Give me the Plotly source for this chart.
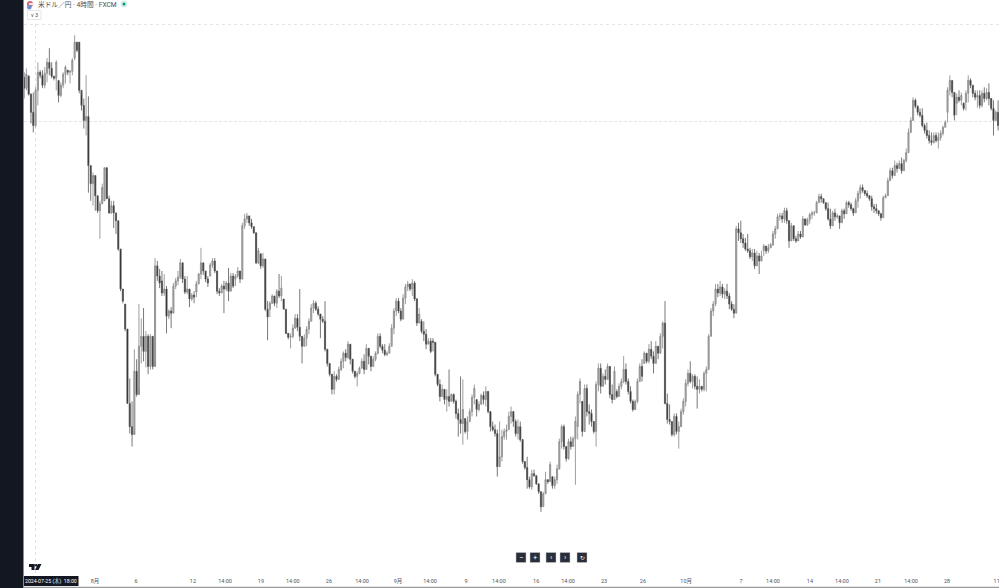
import plotly.graph_objects as go

highs = [
154.10,154.23,154.00,153.40,153.43,153.60,154.43,154.17,154.17,154.27,
154.57,154.90,154.43,153.97,154.50,153.83,153.77,154.10,154.33,154.17,
154.17,154.57,155.33,155.10,155.10,153.33,153.23,154.00,153.30,151.00,
150.77,150.67,150.00,149.83,150.40,150.93,150.93,150.00,149.83,149.83,
149.43,149.17,148.17,146.83,146.40,145.57,143.93,143.17,144.90,144.57,
146.40,145.93,146.27,145.50,145.40,145.40,145.33,147.93,147.83,147.57,
147.50,147.40,147.00,146.23,146.30,147.10,147.27,147.50,147.90,147.63,
147.33,147.33,146.90,146.77,146.83,147.17,147.43,148.27,147.77,147.43,
147.33,147.77,147.93,147.93,147.50,146.93,147.07,147.17,147.17,147.60,
147.43,147.43,147.40,147.63,147.40,149.10,149.40,149.43,149.33,149.23,
148.93,148.77,148.27,148.07,148.10,147.90,146.50,146.50,146.73,146.57,
146.90,147.40,147.33,146.57,146.23,145.40,145.43,145.73,146.07,146.07,
146.90,145.33,145.40,145.67,145.93,146.40,146.53,146.50,146.33,146.07,
146.00,146.50,144.90,144.33,144.00,144.17,144.07,144.33,144.60,144.83,
144.90,145.17,145.07,144.50,144.17,144.17,144.33,144.60,144.73,145.07,
144.77,144.60,144.67,144.83,145.43,145.43,145.07,145.07,144.83,145.10,
145.73,146.27,146.60,146.60,146.27,146.73,147.07,147.17,147.00,147.23,
147.17,146.60,146.27,145.90,145.83,145.57,145.27,145.27,145.27,145.10,
144.07,143.90,143.73,143.57,143.57,144.23,143.43,143.43,143.23,142.93,
144.00,143.90,142.60,142.67,142.93,143.40,143.73,143.23,143.17,143.43,
143.50,143.67,143.50,142.83,142.50,142.40,142.23,142.50,142.23,142.27,
142.40,142.83,143.00,142.73,142.57,142.57,142.50,141.83,141.17,141.33,
140.67,140.90,140.90,140.67,140.43,140.17,140.17,140.83,140.57,141.17,
140.67,140.67,141.07,141.93,142.40,142.40,141.67,141.93,142.00,142.00,
142.67,143.50,143.93,143.17,143.73,143.73,143.07,142.90,142.40,143.83,
144.43,144.43,144.10,144.23,144.43,144.27,143.73,144.33,143.57,143.77,
143.93,144.67,144.43,143.93,143.67,143.23,143.23,143.93,144.43,144.57,
144.83,144.73,145.07,145.17,144.83,145.17,144.83,145.43,145.83,146.50,
143.43,143.07,142.50,142.77,142.77,142.50,142.93,143.27,143.90,144.23,
144.50,144.07,144.07,144.00,143.90,143.67,144.17,144.33,145.40,146.27,
146.50,147.07,147.07,147.17,147.07,146.93,147.07,146.77,146.50,146.40,
149.00,149.10,149.17,148.73,148.60,148.73,148.27,148.23,148.23,148.17,
148.10,148.17,148.40,148.33,148.40,148.43,148.83,149.00,149.40,149.43,
149.43,149.60,149.60,149.10,149.10,148.93,148.67,148.83,148.83,149.33,
149.10,149.27,149.43,149.50,149.50,149.83,150.07,150.07,149.83,149.77,
149.77,149.57,149.50,149.57,149.40,149.33,149.57,149.57,149.83,149.83,
149.77,149.60,149.93,150.17,150.37,150.37,150.17,150.17,150.00,150.00,
149.73,149.73,149.50,149.43,150.00,150.07,150.60,150.93,150.93,151.17,
151.10,151.17,151.27,151.23,151.57,152.23,152.60,153.27,153.23,153.00,
152.90,152.90,152.40,152.43,152.17,152.10,152.10,152.10,152.10,152.17,
152.33,152.50,153.60,154.00,153.83,153.33,153.40,153.50,153.43,153.10,
153.50,154.00,153.90,153.67,153.50,153.50,153.50,153.50,153.60,153.57,
153.73,153.17,153.17,152.83,153.17]

lows = [
153.23,153.50,153.33,152.40,152.10,152.27,153.00,153.90,153.57,153.57,
153.77,154.00,153.90,153.83,153.50,153.10,153.27,153.57,153.73,154.00,
153.73,154.00,154.50,154.77,153.40,152.83,152.23,152.00,150.10,149.83,
149.67,149.50,149.43,148.57,149.73,149.83,149.90,149.40,149.40,148.93,
148.73,148.17,146.83,146.43,145.50,143.10,142.10,141.67,142.17,143.33,
143.57,144.43,144.50,144.30,144.07,144.23,144.23,144.50,147.17,146.93,
146.67,146.67,145.43,145.90,145.60,146.10,146.90,147.03,147.23,147.10,
146.73,146.73,146.30,146.50,146.43,146.63,147.07,147.23,147.37,147.13,
146.97,147.33,147.60,147.43,146.73,146.67,146.77,146.10,146.83,146.50,
146.83,146.93,147.00,147.27,147.10,147.23,148.90,149.10,149.00,148.90,
148.73,147.73,147.73,147.57,147.60,146.17,145.20,145.97,146.40,146.33,
146.27,146.60,146.50,146.23,145.40,145.23,144.93,145.27,145.60,145.50,
145.17,144.43,145.00,145.00,145.40,145.83,146.10,146.17,146.00,145.27,
145.77,144.83,144.33,144.00,143.40,143.40,143.83,143.90,144.17,144.27,
144.50,144.57,144.40,144.10,143.93,143.67,144.07,144.27,144.07,144.23,
144.40,144.17,144.33,144.50,144.73,144.93,144.77,144.67,144.67,144.77,
145.00,145.40,146.00,146.10,145.83,145.90,146.40,146.83,146.83,146.67,
146.50,145.67,145.77,145.43,145.17,144.90,145.07,144.77,144.83,144.00,
143.67,143.17,143.33,143.07,142.83,143.00,143.17,143.10,142.60,142.00,
142.10,141.73,142.10,141.90,142.50,142.67,143.07,142.67,142.83,143.07,
143.07,143.00,142.77,142.17,142.17,142.00,140.67,141.00,141.17,141.90,
141.90,142.23,142.43,142.33,142.00,141.90,141.83,141.10,140.90,140.27,
140.27,140.23,140.67,140.40,140.10,139.50,139.67,140.10,140.43,140.50,
140.27,140.27,140.43,140.90,141.60,141.57,141.17,141.23,141.57,141.67,
140.40,141.90,143.10,142.00,142.17,142.67,142.40,142.33,142.10,141.67,
143.50,143.43,143.67,143.73,143.90,143.27,143.10,143.23,143.27,143.33,
143.57,143.77,143.73,143.40,143.10,142.83,143.10,143.10,143.83,143.83,
144.43,144.43,144.43,144.57,144.10,144.43,144.57,144.77,144.93,143.07,
142.43,142.40,142.00,142.00,142.07,141.60,142.33,142.73,143.00,143.67,
143.77,143.60,143.57,142.93,143.43,143.50,143.50,143.50,144.23,145.33,
146.00,146.33,146.63,146.67,146.60,146.57,146.57,146.23,146.17,145.93,
146.10,148.50,148.43,148.27,148.17,148.10,147.90,147.83,147.57,147.67,
147.40,147.83,148.00,148.07,148.10,148.27,148.33,148.57,148.90,149.17,
149.10,149.10,149.07,148.27,148.50,148.50,148.43,148.50,148.57,148.63,
149.00,149.00,149.07,149.23,149.33,149.43,149.77,149.77,149.73,149.50,
149.17,148.90,149.00,149.17,149.23,148.90,149.10,149.23,149.40,149.60,
149.50,149.33,149.43,149.60,149.90,150.10,150.00,149.93,149.83,149.50,
149.43,149.40,149.33,149.17,149.27,149.93,150.00,150.50,150.57,150.67,
150.77,150.90,150.73,150.83,151.10,151.43,152.10,152.50,152.90,152.67,
152.60,152.27,152.07,151.90,151.73,151.67,151.73,151.77,151.57,151.83,
152.00,152.27,152.43,153.33,153.27,152.50,152.67,153.10,153.00,152.83,
152.83,153.10,153.57,153.27,153.17,152.93,152.90,152.93,153.10,153.17,
153.00,152.83,152.00,152.50,152.17]

opens = [
153.93,153.57,153.97,153.37,152.77,152.33,153.50,154.10,154.00,153.67,
154.07,154.43,154.23,153.97,153.90,153.83,153.33,153.67,154.03,154.17,
154.10,154.13,154.57,155.10,155.10,153.50,153.00,152.50,152.63,151.00,
150.40,150.67,150.00,149.50,149.73,149.83,150.93,149.90,149.43,149.67,
149.43,149.17,148.23,146.90,146.40,145.57,143.10,142.33,142.07,144.17,
143.40,145.00,145.33,144.83,145.33,144.33,145.33,144.33,147.67,147.33,
147.17,146.77,146.90,146.00,146.17,146.10,147.00,147.17,147.30,147.77,
147.23,146.80,146.90,146.57,146.70,146.80,147.07,147.40,147.77,147.50,
147.23,147.33,147.70,147.83,147.50,146.83,146.77,147.00,146.90,147.10,
146.83,147.33,147.23,147.33,147.50,147.23,149.00,149.23,149.33,149.10,
148.97,148.77,147.77,148.07,147.67,147.90,146.23,146.23,146.43,146.67,
146.43,146.83,146.67,146.57,146.23,145.43,145.30,145.33,145.60,145.93,
145.63,145.33,145.00,145.27,145.57,145.83,146.27,146.43,146.23,146.07,
145.90,145.83,144.90,144.43,144.07,143.57,144.00,143.90,144.23,144.50,
144.77,144.63,145.07,144.57,144.17,144.00,144.10,144.27,144.50,144.23,
144.93,144.67,144.33,144.57,144.77,145.33,145.00,144.87,144.73,144.77,
145.00,145.60,146.17,146.50,146.17,145.90,146.60,146.97,147.07,146.90,
147.10,146.57,145.77,145.83,145.50,145.40,145.07,145.17,145.17,145.13,
144.07,143.73,143.33,143.57,143.23,143.33,143.17,143.40,143.17,142.77,
142.57,142.43,142.60,142.17,142.50,142.83,143.30,143.23,142.90,143.07,
143.37,143.23,143.50,142.83,142.33,142.23,142.10,141.00,141.33,142.00,
142.17,142.23,142.67,142.83,142.50,142.10,142.33,141.90,141.17,140.97,
140.57,140.33,140.77,140.70,140.43,140.17,139.67,140.10,140.57,140.50,
140.67,140.37,140.57,140.93,141.83,142.33,141.67,141.27,141.83,141.67,
141.93,142.33,143.40,143.17,142.17,143.60,142.83,142.77,142.50,142.17,
143.73,144.27,143.67,144.00,143.90,144.33,143.40,143.23,143.50,143.33,
143.67,143.83,144.23,143.83,143.50,143.17,142.90,143.17,143.83,144.33,
144.43,144.77,144.50,144.90,144.67,144.43,145.00,144.77,145.33,145.77,
143.10,142.57,142.50,142.07,142.67,142.17,142.33,142.83,143.17,143.77,
144.10,143.83,144.00,143.67,143.57,143.67,143.57,144.10,144.23,145.33,
146.17,146.40,146.90,146.77,146.97,146.73,146.83,146.67,146.40,146.23,
146.10,148.90,148.77,148.57,148.43,148.23,148.17,147.97,148.10,147.67,
148.00,147.83,148.17,148.33,148.17,148.27,148.37,148.73,148.90,149.30,
149.33,149.23,149.50,149.17,148.50,149.00,148.57,148.50,148.73,148.63,
149.23,149.03,149.20,149.37,149.43,149.43,149.77,149.97,149.90,149.77,
149.57,149.23,149.00,149.43,149.30,149.33,149.10,149.50,149.40,149.77,
149.70,149.57,149.43,149.83,150.07,150.27,150.17,150.07,150.00,149.90,
149.63,149.57,149.50,149.40,149.27,149.93,150.00,150.50,150.83,150.67,
151.00,150.90,151.07,150.83,151.17,151.43,152.10,152.50,153.17,152.97,
152.77,152.67,152.33,152.17,152.00,151.83,151.77,152.00,151.83,151.93,
152.07,152.27,152.77,153.50,153.83,153.43,153.07,153.27,153.17,153.07,
153.10,153.40,153.83,153.67,153.40,153.27,153.33,153.00,153.40,153.23,
153.43,153.23,152.90,152.50,152.77]

closes = [
153.57,154.03,153.37,152.77,152.33,153.50,154.10,154.00,153.67,154.07,
154.43,154.23,153.97,153.90,154.43,153.33,153.67,154.03,154.27,154.10,
154.13,154.50,155.10,154.83,153.50,153.00,152.50,152.63,151.00,150.40,
150.67,150.00,149.50,149.73,150.27,150.93,149.90,149.43,149.67,149.43,
149.17,148.23,146.90,146.50,145.57,143.10,142.33,142.07,144.17,143.40,
145.00,145.33,144.83,145.33,144.33,145.33,144.33,147.67,147.33,147.10,
146.77,146.90,146.00,146.17,146.10,147.00,147.17,147.30,147.77,147.23,
146.80,146.90,146.57,146.70,146.63,147.07,147.40,147.77,147.50,147.23,
147.10,147.70,147.83,147.50,146.83,146.77,147.00,146.90,147.10,146.83,
147.33,147.00,147.33,147.50,147.23,149.00,149.23,149.33,149.10,148.97,
148.77,147.77,148.17,147.67,147.90,146.23,145.97,146.43,146.67,146.43,
146.83,146.67,146.93,146.23,145.43,145.30,145.33,145.60,145.93,145.63,
145.33,145.00,145.27,145.57,145.83,146.27,146.43,146.23,146.07,145.90,
145.83,144.90,144.43,144.07,143.57,144.00,143.90,144.23,144.50,144.77,
144.63,145.07,144.57,144.17,144.00,144.10,144.27,144.50,144.23,144.93,
144.67,144.33,144.57,144.77,145.33,145.00,144.87,144.73,144.77,145.00,
145.60,146.17,146.50,146.17,145.90,146.60,146.97,147.07,146.90,147.10,
146.57,145.77,146.07,145.50,145.40,145.07,145.17,144.83,145.13,144.07,
143.73,143.33,143.57,143.23,143.33,143.17,143.40,143.17,142.77,142.57,
142.43,142.90,142.17,142.50,142.83,143.30,143.60,142.90,143.07,143.37,
143.23,143.50,142.83,142.33,142.23,142.10,141.00,141.33,142.00,142.17,
142.23,142.67,142.83,142.50,142.10,142.33,141.90,141.17,140.97,140.57,
140.33,140.77,140.70,140.43,140.17,139.67,140.10,140.57,140.50,141.07,
140.37,140.57,140.93,141.83,142.33,141.67,141.27,141.83,141.67,141.93,
142.50,143.40,143.83,142.17,143.60,142.83,142.77,142.50,142.17,143.73,
144.27,143.67,144.00,143.90,144.33,143.40,143.23,144.17,143.33,143.67,
143.83,144.23,143.83,143.50,143.17,142.90,143.17,143.83,144.33,144.00,
144.77,144.50,144.90,144.67,144.43,145.00,144.77,145.33,145.77,143.10,
142.57,142.50,142.07,142.67,142.17,142.33,142.83,143.17,143.77,144.10,
143.83,144.00,143.67,143.57,143.67,143.57,144.10,144.23,145.33,146.17,
146.40,146.90,146.77,146.97,146.73,146.83,146.67,146.40,146.23,146.10,
148.90,148.77,148.57,148.43,148.23,148.17,147.97,148.10,147.67,148.00,
147.83,148.00,148.33,148.17,148.27,148.37,148.73,148.90,149.30,149.33,
149.23,149.50,149.17,148.50,149.00,148.57,148.50,148.73,148.63,149.23,
149.03,149.20,149.37,149.43,149.43,149.77,149.97,149.90,149.77,149.57,
149.23,149.00,149.43,149.30,149.33,149.10,149.50,149.40,149.77,149.70,
149.57,149.43,149.83,150.07,150.27,150.17,150.07,150.00,149.90,149.63,
149.57,149.50,149.40,149.27,149.93,150.00,150.50,150.83,150.67,151.00,
150.90,151.07,150.83,151.17,151.43,152.10,152.50,153.17,152.97,152.77,
152.67,152.33,152.17,152.00,151.83,151.77,152.00,151.83,151.93,152.07,
152.27,152.43,153.50,153.83,153.43,152.67,153.27,153.17,153.33,152.90,
153.40,153.83,153.67,153.40,153.27,153.33,153.00,153.40,153.23,153.43,
153.23,152.90,152.50,152.77,152.33]

bar_no = list(range(len(closes)))

tick_bars = [30.9,48.7,73.5,87.5,103.1,117,132.7,147.1,162.8,176.7,192.4,206.7,222.9,
             236.8,252.5,269.4,288.2,312.1,326,342.1,356,371.7,386.1,401.8,423.4]
tick_labels = ["8月","6","12","14:00","19","14:00","26","14:00","9月","14:00","9","14:00","16",
               "14:00","23","26","10月","7","14:00","14","14:00","21","14:00","28","11"]

W, H = 999, 588
FONT = "Roboto, 'Noto Sans CJK JP', sans-serif"
DARK = "#131722"
def px(x): return x / W
def py(y): return 1 - y / H

fig = go.Figure(go.Candlestick(
    x=bar_no, open=opens, high=highs, low=lows, close=closes,
    increasing=dict(line=dict(color="#858585", width=0.8), fillcolor="#b4b4b4"),
    decreasing=dict(line=dict(color="#555555", width=0.8), fillcolor="#111111"),
    whiskerwidth=0, hoverinfo="skip", showlegend=False,
))

shapes = [
    dict(type="rect", xref="paper", yref="paper", x0=0, x1=px(23), y0=0, y1=1, fillcolor=DARK, line_width=0, layer="above"),
    dict(type="rect", xref="paper", yref="paper", x0=px(23), x1=px(24), y0=0, y1=1, fillcolor="#8a8c92", line_width=0, layer="above"),
    dict(type="rect", xref="paper", yref="paper", x0=px(24), x1=1, y0=py(588), y1=py(586.8), fillcolor="#9a9a9a", line_width=0, layer="above"),
    dict(type="line", xref="paper", yref="paper", x0=px(24), x1=1, y0=py(24.5), y1=py(24.5), line=dict(color="#e3e5ea", width=1, dash="3px,3px"), layer="below"),
    dict(type="line", xref="paper", yref="paper", x0=px(24), x1=1, y0=py(121.5), y1=py(121.5), line=dict(color="#e3e5ea", width=1, dash="3px,2px"), layer="below"),
    dict(type="line", xref="paper", yref="paper", x0=px(35.5), x1=px(35.5), y0=py(24), y1=py(576), line=dict(color="#dfe1e6", width=1, dash="3px,3px"), layer="below"),
    dict(type="rect", xref="paper", yref="paper", x0=px(24), x1=px(78.5), y0=py(586), y1=py(576), fillcolor=DARK, line_width=0, layer="above"),
    dict(type="rect", xref="paper", yref="paper", x0=px(27.5), x1=px(41), y0=py(19.5), y1=py(10.5), fillcolor="white", line=dict(color="#e6e7eb", width=1), layer="above"),
    dict(type="circle", xref="paper", yref="paper", x0=px(120.5), x1=px(127.5), y0=py(7.5), y1=py(0.5), fillcolor="#d5efe9", line_width=0, layer="above"),
    dict(type="circle", xref="paper", yref="paper", x0=px(122.5), x1=px(125.5), y0=py(5.5), y1=py(2.5), fillcolor="#089981", line_width=0, layer="above"),
    dict(type="circle", xref="paper", yref="paper", x0=px(27), x1=px(33), y0=py(7), y1=py(1), fillcolor="#d8606f", line_width=0, layer="above"),
    dict(type="circle", xref="paper", yref="paper", x0=px(27), x1=px(31.5), y0=py(9.5), y1=py(5), fillcolor="#6f8ccc", line_width=0, layer="above"),
    dict(type="rect", xref="paper", yref="paper", x0=px(29), x1=px(34), y0=py(5), y1=py(3), fillcolor="#f0f0f0", line_width=0, layer="above"),
    # TradingView mark
    dict(type="rect", xref="paper", yref="paper", x0=px(29), x1=px(34.5), y0=py(567), y1=py(564), fillcolor="#131722", line_width=0, layer="above"),
    dict(type="rect", xref="paper", yref="paper", x0=px(31.5), x1=px(34.5), y0=py(570), y1=py(564), fillcolor="#131722", line_width=0, layer="above"),
    dict(type="circle", xref="paper", yref="paper", x0=px(35), x1=px(37.5), y0=py(566.5), y1=py(564), fillcolor="#131722", line_width=0, layer="above"),
    dict(type="path", xref="paper", yref="paper",
         path=f"M {px(38)} {py(564)} L {px(41.5)} {py(564)} L {px(38.5)} {py(570)} L {px(35)} {py(570)} Z",
         fillcolor="#131722", line_width=0, layer="above"),
]

anns = [
    dict(x=px(37), y=py(4), text="米ドル／円 · 4時間 · FXCM", font=dict(size=6.7, color="#4a4d55", family=FONT), xanchor="left"),
    dict(x=px(34.5), y=py(15), text="v 3", font=dict(size=5.5, color="#4a4d55", family=FONT)),
    dict(x=px(51), y=py(581), text="2024-07-25 (木)&nbsp;&nbsp;18:00", font=dict(size=5.2, color="#ffffff", family=FONT)),
]
btn_centres = [521, 535, 551, 565, 582]
btn_marks = ["−", "+", "‹", "›", "↻"]
btn_sizes = [7.5, 7.5, 7.5, 7.5, 6]
for cx, mark, sz in zip(btn_centres, btn_marks, btn_sizes):
    shapes.append(dict(type="rect", xref="paper", yref="paper", x0=px(cx-5), x1=px(cx+5), y0=py(562.5), y1=py(552.5),
                       fillcolor="#2a2e39", line=dict(color="#c9cbd1", width=0.5), layer="above"))
    anns.append(dict(x=px(cx), y=py(557.5), text=mark, font=dict(size=sz, color="#ffffff", family=FONT)))
for a in anns:
    a.update(xref="paper", yref="paper", showarrow=False, borderpad=0)
    a.setdefault("xanchor", "center")
    a["yanchor"] = "middle"

fig.update_layout(
    width=W, height=H, margin=dict(l=0, r=0, t=0, b=0), autosize=False,
    paper_bgcolor="#ffffff", plot_bgcolor="#ffffff", showlegend=False, hovermode=False,
    shapes=shapes, annotations=anns,
    xaxis=dict(domain=[24/W, 1], range=[-0.04, 424.4], rangeslider=dict(visible=False), showgrid=False, zeroline=False,
               showline=False, ticks="", tickmode="array", tickvals=tick_bars, ticktext=tick_labels, tickangle=0,
               tickfont=dict(size=5.5, color="#50535e", family=FONT), ticklabelstandoff=0, ticklabeloverflow="allow"),
    yaxis=dict(domain=[12/H, 1], range=[137.37, 156.5], showgrid=False, zeroline=False, showline=False,
               showticklabels=False, ticks=""),
)
fig.write_html("out.html", config=dict(displayModeBar=False),
               post_script="document.body.style.margin='0';document.documentElement.style.overflow='hidden';")
